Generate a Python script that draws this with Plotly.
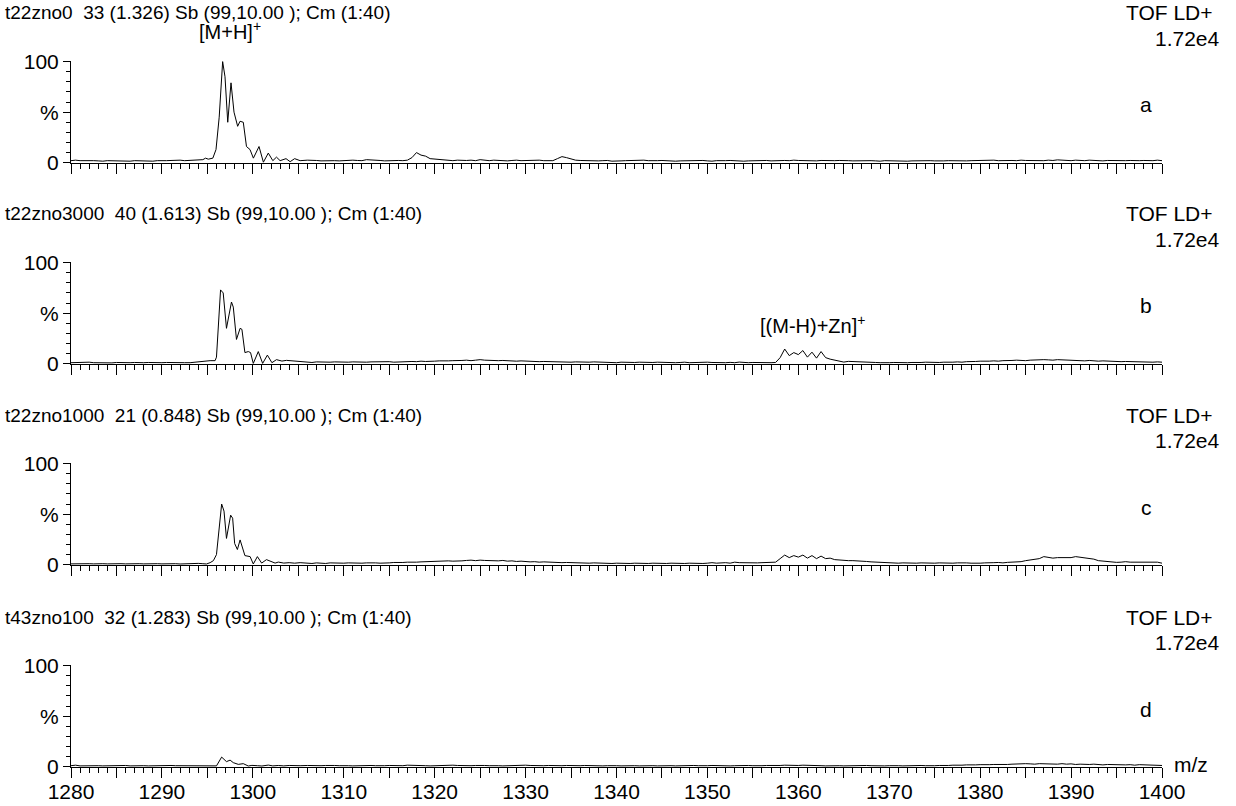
import numpy as np
import plotly.graph_objects as go

# ---------------- data ----------------
mz_min, mz_max = 1280, 1400
x_tick_labels = [str(v) for v in range(1280, 1401, 10)]

titles = [
    "t22zno0  33 (1.326) Sb (99,10.00 ); Cm (1:40)",
    "t22zno3000  40 (1.613) Sb (99,10.00 ); Cm (1:40)",
    "t22zno1000  21 (0.848) Sb (99,10.00 ); Cm (1:40)",
    "t43zno100  32 (1.283) Sb (99,10.00 ); Cm (1:40)",
]
panel_letters = ["a", "b", "c", "d"]
mode_label = "TOF LD+"
full_scale = "1.72e4"

# left baseline (1280 .. 1291.5, step 0.5)
a_left = [2.0,2.5,2.0,2.2,2.5,2.0,1.8,1.5,2.0,1.8, 1.5,2.0,1.5,1.5,2.0,1.8,2.2,2.0,1.5,2.0, 1.8,2.0,2.2,2.5]
b_left = [1.0,1.2,0.8,1.0,1.5,1.0,0.8,1.2,1.0,0.8, 1.2,1.0,0.8,1.0,1.2,0.8,1.0,1.2,1.0,0.8, 1.0,1.2,1.0,0.8]
c_left = [0.8,1.0,1.2,0.8,1.0,0.8,1.2,1.0,0.8,1.0, 1.2,1.0,0.8,1.0,1.2,1.0,0.8,1.0,1.2,1.0, 0.8,1.0,0.8,1.0]
d_left = [1.0,1.5,0.8,1.0,0.8,1.2,1.0,0.8,1.0,1.2, 0.8,1.0,1.2,0.8,1.0,1.2,1.0,0.8,1.0,1.2, 0.8,1.0,1.2,1.0]

# [M+H]+ isotope cluster region (1292 .. 1305.5)
a_peak_mz = [1292.0,1292.5,1293.0,1293.5,1294.0,1294.5,1294.8,1295.1,1295.6,1295.95,1296.3,1296.68,1296.94,1297.24,
             1297.6,1297.93,1298.33,1298.59,1298.95,1299.3,1299.69,1300.06,1300.68,1301.16,1301.7,1302.2,1302.6,
             1303.0,1303.65,1304.1,1304.6,1305.2]
a_peak_int = [2.5,2.0,2.2,2.0,2.5,3.0,4.5,3.5,4.5,13,45,100,85,40,
              79,50,36,41,40,16,13,4.5,16,0.5,9.5,2.0,5.5,
              2.0,4.0,1.0,4.0,2.0]
b_peak_mz = [1292.0,1292.5,1293.1,1293.6,1294.2,1294.7,1295.3,1295.85,1296.0,1296.45,1296.74,1297.1,1297.65,1297.85,
             1298.2,1298.6,1298.8,1299.13,1299.5,1299.75,1300.05,1300.6,1301.08,1301.6,1302.1,1302.6,1303.2,
             1303.7,1304.5,1305.2]
b_peak_int = [0.8,1.0,1.0,1.5,2.0,2.2,3.0,3.0,6.5,73,70,35,61,56,
              24,35,34,11,12,11,0.3,12,0.3,8.5,1.0,4.0,2.6,
              3.3,2.6,1.6]
c_peak_mz = [1292.0,1292.5,1293.1,1293.5,1294.0,1294.5,1294.9,1295.3,1295.66,1296.0,1296.32,1296.57,1296.83,1297.1,
             1297.56,1297.78,1298.0,1298.3,1298.6,1298.9,1299.13,1299.7,1300.05,1300.5,1300.97,1301.5,1302.1,
             1302.45,1302.8,1303.4,1304.0,1304.6,1305.2]
c_peak_int = [0.7,1.0,1.3,1.0,1.3,1.0,0.7,2.0,4.0,10,36,60,53,26,
              49,46,21,15,24.5,15,9.0,8.0,0.7,8.0,1.6,5.0,2.6,
              1.6,2.6,1.6,2.0,1.5,2.0]
d_peak_mz = [1292.0,1292.5,1293.0,1293.5,1294.0,1294.5,1295.0,1295.5,1296.0,1296.57,1297.1,1297.5,1297.85,1298.4,
             1298.95,1299.5,1299.9,1300.5,1301.0,1301.7,1302.2,1302.8,1303.4,1304.0,1304.6,1305.2]
d_peak_int = [1.0,0.8,1.0,1.2,0.8,1.0,1.2,0.8,0.8,9.5,5.0,6.5,4.0,2.3,
              3.0,0.7,1.3,1.0,0.7,1.6,0.8,1.2,0.8,1.2,0.8,1.0]

# right part (1306 .. 1400, step 0.5)
a_right = [2.5,2.0,2.2,1.8,2.0,2.5,2.0,1.8,2.2,2.0, 2.5,2.2,2.0,3.0,2.5,2.0,2.2,1.8,2.0,2.5,
           2.2,2.0,2.5,5.0,10.0,7.5,6.5,4.0,3.5,3.0, 2.5,2.2,2.0,2.5,2.0,2.2,2.5,2.0,3.0,2.5,
           2.0,2.5,2.2,2.0,1.8,2.2,2.5,2.0,2.2,1.8, 2.0,2.5,2.0,2.2,2.0,4.0,6.0,5.0,3.5,2.5,
           2.2,2.0,2.5,2.0,1.8,2.0,2.2,1.5,2.0,1.8, 2.0,2.2,1.8,2.0,2.5,2.0,1.8,2.0,2.2,1.8,
           2.0,1.5,1.8,2.0,1.5,1.8,2.0,2.2,1.8,1.5, 2.0,1.8,2.0,2.2,1.8,2.0,1.5,1.8,2.0,1.8,
           2.0,2.2,1.8,2.0,2.5,2.2,2.0,2.5,2.2,2.0, 2.5,2.0,1.8,2.2,2.0,1.8,2.0,2.2,1.8,2.0,
           1.8,2.0,1.5,1.8,2.0,1.8,1.5,2.0,1.8,1.5, 2.0,1.8,1.5,1.8,2.0,1.5,1.8,2.0,1.8,1.5,
           1.8,2.0,1.8,2.2,2.0,1.8,2.0,2.2,2.5,2.0, 2.2,2.5,2.0,2.2,2.5,2.2,2.0,2.5,2.2,2.0,
           2.5,2.2,2.0,2.5,2.2,2.8,2.5,2.2,2.0,2.5, 2.2,2.0,2.5,2.2,2.0,1.8,2.2,2.0,1.8,2.2,
           2.0,2.2,1.8,2.0,2.2,1.8,2.0,2.5,2.0]
b_right = [1.5,1.2,1.8,1.5,1.2,1.5,1.8,1.5,1.2,1.5, 1.8,1.5,1.2,1.5,1.8,2.0,1.5,1.8,2.0,1.5,
           1.8,2.0,1.8,2.2,2.0,2.5,2.2,2.0,2.5,2.8, 2.5,2.8,3.0,2.8,3.2,3.5,3.0,3.5,4.0,3.5,
           3.2,3.5,3.0,3.2,2.8,3.0,2.5,2.8,2.5,2.2, 2.5,2.0,2.2,2.0,1.8,2.0,1.5,1.8,1.5,1.8,
           1.5,1.2,1.5,1.8,1.5,1.2,1.5,1.2,1.0,1.5, 1.2,1.0,1.2,1.5,1.2,1.0,1.2,1.5,1.2,1.0,
           1.2,1.0,1.2,1.5,1.0,1.2,1.0,1.2,1.5,1.2, 1.0,1.2,1.0,1.3,1.0,1.6,1.2,1.0,1.2,1.0,
           1.2,1.0,1.0,1.2,6.0,14.5,8.0,11.0,9.0,13.0, 6.5,11.4,5.5,12.0,6.0,4.5,3.3,2.5,1.6,2.3,
           2.0,2.3,1.5,1.2,1.0,1.2,1.0,0.8,1.0,1.2, 1.0,0.8,1.0,1.2,1.0,1.2,1.5,1.2,1.0,1.2,
           1.5,1.2,1.5,1.8,1.5,2.0,1.8,2.2,2.5,2.2, 2.5,2.8,2.5,3.0,2.8,3.2,3.5,3.2,3.0,3.5,
           3.8,3.5,4.0,3.8,3.5,4.0,3.8,3.5,3.2,3.5, 3.0,2.8,3.2,2.8,2.5,2.8,2.5,2.2,2.5,2.0,
           2.2,2.0,1.8,2.0,1.5,1.8,1.5,1.8,1.5]
c_right = [1.5,1.2,1.8,1.5,1.2,1.8,1.5,1.2,1.5,1.8, 1.5,1.2,1.5,1.8,2.0,1.8,1.5,2.0,1.8,2.2,
           2.0,2.2,2.5,2.2,2.5,2.8,3.0,2.8,3.2,3.5, 3.2,3.8,3.5,4.0,3.8,4.2,4.5,4.0,4.5,4.2,
           4.0,4.5,3.8,4.2,3.5,3.8,3.2,3.5,3.0,2.8, 3.0,2.5,2.8,2.5,2.2,2.5,2.0,2.2,2.0,1.8,
           2.0,1.8,1.5,1.8,1.5,1.2,1.5,1.2,1.5,1.2, 1.0,1.2,1.5,1.2,1.0,1.2,1.5,1.2,1.0,1.2,
           1.5,1.2,1.0,1.2,1.5,1.2,1.0,1.2,1.5,2.0, 1.5,1.8,2.0,1.5,2.5,2.0,1.8,2.2,2.0,1.8,
           2.0,2.2,2.0,2.5,6.0,9.5,7.0,9.0,7.5,9.5, 6.5,9.0,6.0,8.5,6.0,6.5,5.0,4.5,4.0,4.0,
           4.0,3.5,3.0,3.2,2.8,2.5,2.2,2.0,2.2,1.8, 1.5,1.8,1.5,1.2,1.5,1.8,1.5,1.2,1.5,1.8,
           1.5,1.2,1.5,1.8,2.0,1.8,1.5,1.2,1.5,1.8, 1.6,2.0,2.2,1.8,2.3,2.5,2.3,3.0,4.0,4.5,
           5.0,6.0,8.0,7.5,6.5,7.0,7.0,7.5,7.0,8.0, 7.5,6.5,6.0,5.5,4.0,3.5,3.5,3.0,2.3,2.5,
           3.0,2.5,2.5,2.0,2.2,2.5,2.0,2.5,1.5]
d_right = [1.2,1.0,0.8,1.0,1.2,1.5,1.2,1.0,1.2,1.0, 0.8,1.0,1.2,1.5,1.2,1.0,0.8,1.0,1.2,1.0,
           1.2,1.0,1.5,1.2,1.0,1.2,1.0,0.8,1.0,1.2, 1.0,1.2,1.5,1.2,1.0,1.2,1.0,1.2,1.5,1.2,
           1.0,1.2,1.0,0.8,1.0,1.2,1.0,1.2,1.5,1.2, 1.0,0.8,1.0,1.2,1.0,0.8,1.0,1.2,1.0,0.8,
           1.0,1.2,1.0,0.8,1.0,0.8,1.0,1.2,1.0,0.8, 1.0,1.2,1.0,0.8,1.0,1.2,1.0,0.8,1.0,1.2,
           1.0,0.8,1.0,1.2,1.0,1.2,1.0,0.8,1.0,1.2, 1.0,1.2,1.0,0.8,1.0,1.2,1.0,1.2,1.0,0.8,
           1.0,1.2,1.0,1.5,1.2,1.5,1.2,1.0,1.2,1.5, 1.2,1.0,1.2,1.0,0.8,1.0,1.2,1.0,0.8,1.0,
           1.0,0.8,1.0,1.2,1.0,0.8,1.0,0.8,1.0,1.2, 1.0,0.8,1.0,1.2,1.0,1.2,1.0,0.8,1.0,1.2,
           1.0,1.2,1.5,1.2,1.5,1.8,1.5,1.8,2.0,1.8, 2.0,2.2,2.0,2.5,2.2,2.5,2.8,2.5,3.0,2.8,
           2.5,3.0,2.8,3.2,2.8,2.5,3.0,2.5,2.8,2.2, 2.5,2.0,2.2,2.5,2.0,1.8,2.2,2.0,1.8,2.0,
           1.8,2.0,1.5,2.0,1.8,1.5,2.0,1.8,1.2]

# ---------------- build series ----------------
left_mz = np.arange(1280.0, 1291.5 + 0.01, 0.5)
right_mz = np.arange(1306.0, 1400.0 + 0.01, 0.5)

series = [
    (a_left, a_peak_mz, a_peak_int, a_right),
    (b_left, b_peak_mz, b_peak_int, b_right),
    (c_left, c_peak_mz, c_peak_int, c_right),
    (d_left, d_peak_mz, d_peak_int, d_right),
]

W, H = 1236, 806
FONT = "Liberation Sans, Arial, sans-serif"
FS = 20
x0p, x1p = 71, 1162
baselines = [163, 364, 565, 767]
panel_h = 102


def py(p):
    return 1 - p / H


def px(p):
    return p / W


fig = go.Figure()
layout = dict(
    width=W, height=H,
    margin=dict(l=0, r=0, t=0, b=0, autoexpand=False),
    paper_bgcolor="white", plot_bgcolor="white",
    showlegend=False,
    font=dict(family=FONT, color="black", size=FS),
)
annotations = []

for i, (left, pk_mz, pk_int, right) in enumerate(series):
    k = "" if i == 0 else str(i + 1)
    xs = list(left_mz) + list(pk_mz) + list(right_mz)
    ys = list(left) + list(pk_int) + list(right)
    fig.add_trace(go.Scatter(x=xs, y=ys, mode="lines",
                             line=dict(color="black", width=1),
                             xaxis="x" + k, yaxis="y" + k, hoverinfo="skip"))
    B = baselines[i]
    T = B - panel_h
    last = i == len(series) - 1
    tickvals = list(range(1280, 1401, 5))
    ticktext = [(str(v) if (last and v % 10 == 0) else "") for v in tickvals]
    layout["xaxis" + k] = dict(
        domain=[px(x0p), px(x1p)], anchor="y" + k, range=[mz_min, mz_max],
        automargin=False,
        showline=True, linecolor="black", linewidth=1, mirror=False,
        showgrid=False, zeroline=False,
        tickmode="array", tickvals=tickvals, ticktext=ticktext,
        ticks="outside", ticklen=10, tickwidth=1, tickcolor="black",
        ticklabelstandoff=-4,
        tickfont=dict(family=FONT, size=FS + 1, color="black"),
        minor=dict(tickmode="linear", tick0=1280, dtick=1, ticks="outside",
                   ticklen=5, tickwidth=1, tickcolor="black", showgrid=False),
    )
    layout["yaxis" + k] = dict(
        domain=[py(B), py(T)], anchor="x" + k, range=[-0.3, 100.6],
        automargin=False,
        showline=True, linecolor="black", linewidth=1,
        showgrid=False, zeroline=False,
        tickmode="array", tickvals=[0, 50, 100], ticktext=["0", "%", "100"],
        ticks="outside", ticklen=7, tickwidth=1, tickcolor="black",
        tickfont=dict(family=FONT, size=FS + 1, color="black"),
        minor=dict(tickmode="linear", tick0=0, dtick=10, ticks="outside",
                   ticklen=4, tickwidth=1, tickcolor="black", showgrid=False),
    )
    annotations.append(dict(text=titles[i], x=px(3), y=py(B - 150), xref="paper", yref="paper",
                            xanchor="left", yanchor="middle", showarrow=False,
                            font=dict(family=FONT, size=FS - 1, color="black")))
    annotations.append(dict(text=mode_label, x=px(1215), y=py(B - 150), xref="paper", yref="paper",
                            xanchor="right", yanchor="middle", showarrow=False,
                            font=dict(family=FONT, size=FS + 1, color="black")))
    annotations.append(dict(text=full_scale, x=px(1222), y=py(B - 125), xref="paper", yref="paper",
                            xanchor="right", yanchor="middle", showarrow=False,
                            font=dict(family=FONT, size=FS + 1, color="black")))
    annotations.append(dict(text=panel_letters[i], x=px(1146), y=py(B - 58), xref="paper", yref="paper",
                            xanchor="center", yanchor="middle", showarrow=False,
                            font=dict(family=FONT, size=FS + 1, color="black")))

annotations.append(dict(text="[M+H]<sup>+</sup>", x=px(230), y=py(baselines[0] - 133), xref="paper", yref="paper",
                        xanchor="center", yanchor="middle", showarrow=False,
                        font=dict(family=FONT, size=FS, color="black")))
annotations.append(dict(text="[(M-H)+Zn]<sup>+</sup>", x=px(812), y=py(baselines[1] - 40), xref="paper", yref="paper",
                        xanchor="center", yanchor="middle", showarrow=False,
                        font=dict(family=FONT, size=FS, color="black")))
annotations.append(dict(text="m/z", x=px(1172), y=py(baselines[3] - 3), xref="paper", yref="paper",
                        xanchor="left", yanchor="middle", showarrow=False,
                        font=dict(family=FONT, size=FS + 1, color="black")))

layout["annotations"] = annotations
fig.update_layout(**layout)
fig.write_html("out.html", config={"displayModeBar": False},
               post_script="document.body.style.margin='0px';document.body.style.padding='0px';")
